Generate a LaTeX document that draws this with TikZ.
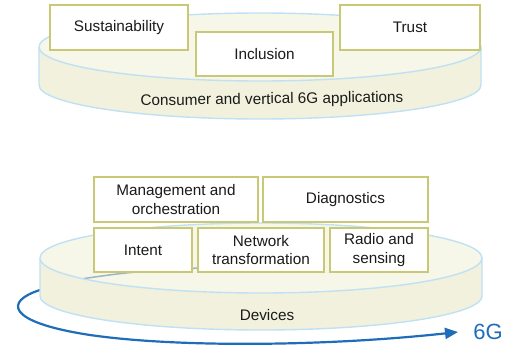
\documentclass[tikz,border=0pt]{standalone}
\usepackage{fontspec}
\setmainfont{Liberation Sans}
\usetikzlibrary{arrows.meta}
\definecolor{boxline}{HTML}{C9C874}
\definecolor{disktop}{HTML}{F6F6E9}
\definecolor{diskside}{HTML}{F1F1DE}
\definecolor{diskedge}{HTML}{BFE1F3}
\definecolor{arcblue}{HTML}{1F6DB8}
\definecolor{faintblue}{HTML}{9DB4C9}
\definecolor{txt}{HTML}{1A1A1A}
\tikzset{
  pillar/.style={draw=boxline, line width=1.8pt, fill=white, inner sep=0pt,
    text=txt, align=center, font=\fontsize{15.3}{18.5}\selectfont},
  disklabel/.style={text=txt, font=\fontsize{15.3}{18}\selectfont, inner sep=0pt},
  diskline/.style={draw=diskedge, line width=1.4pt}
}
\begin{document}
\begin{tikzpicture}[x=1pt,y=1pt]
\useasboundingbox (0,0) rectangle (505,349);
% ---------- top disk ----------
\fill[diskside] (39,302) -- (39,264) arc[start angle=180,end angle=360,x radius=221,y radius=34] -- (481,302) -- cycle;
\fill[disktop] (260,302) ellipse[x radius=221,y radius=34];
\draw[diskline] (260,302) ellipse[x radius=221,y radius=34];
\draw[diskline] (39,302) -- (39,264) arc[start angle=180,end angle=360,x radius=221,y radius=34] -- (481,302);
\node[disklabel, rotate=0.8] (consumer) at (272,249) {Consumer and vertical 6G applications};
\node[pillar, minimum width=138pt, minimum height=45pt] (sust) at (119,321.5) {Sustainability};
\node[pillar, minimum width=137pt, minimum height=44pt] (incl) at (264.5,295) {Inclusion};
\node[pillar, minimum width=140pt, minimum height=45pt] (trust) at (410,321.5) {Trust};
% ---------- bottom disk ----------
\coordinate (arcstart) at (40,59);
\coordinate (arcmid) at (90,14);
\coordinate (arcend) at (458,17);
\draw[arcblue, line width=2.2pt, -{Triangle[length=13pt,width=11pt]}]
  (arcstart) .. controls (5,48) and (5,27) .. (arcmid)
  .. controls (180,1) and (330,3) .. (arcend);
\fill[diskside] (40,91) -- (40,53) arc[start angle=180,end angle=360,x radius=221,y radius=34] -- (482,91) -- cycle;
\fill[disktop] (261,91) ellipse[x radius=221,y radius=35];
\coordinate (fa) at (84,70.5);
\coordinate (fb) at (198,81);
\draw[faintblue, line width=1.5pt] (fa) .. controls (130,77) .. (fb);
\draw[diskline] (261,91) ellipse[x radius=221,y radius=35];
\draw[diskline] (40,91) -- (40,53) arc[start angle=180,end angle=360,x radius=221,y radius=34] -- (482,91);
\node[disklabel] (devices) at (267,34) {Devices};
\node[text=arcblue, font=\fontsize{22}{24}\selectfont, inner sep=0pt] (sixg) at (488,17) {6G};
\node[pillar, minimum width=164pt, minimum height=45pt] (mgmt) at (176,149.5) {Management and\\orchestration};
\node[pillar, minimum width=165pt, minimum height=45pt] (diag) at (345.5,149.5) {Diagnostics};
\node[pillar, minimum width=98pt, minimum height=44pt] (intent) at (143,99) {Intent};
\node[pillar, minimum width=126pt, minimum height=44pt] (net) at (261,99) {Network\\transformation};
\node[pillar, minimum width=98pt, minimum height=44pt] (radio) at (379,99) {Radio and\\sensing};
\end{tikzpicture}
\end{document}
